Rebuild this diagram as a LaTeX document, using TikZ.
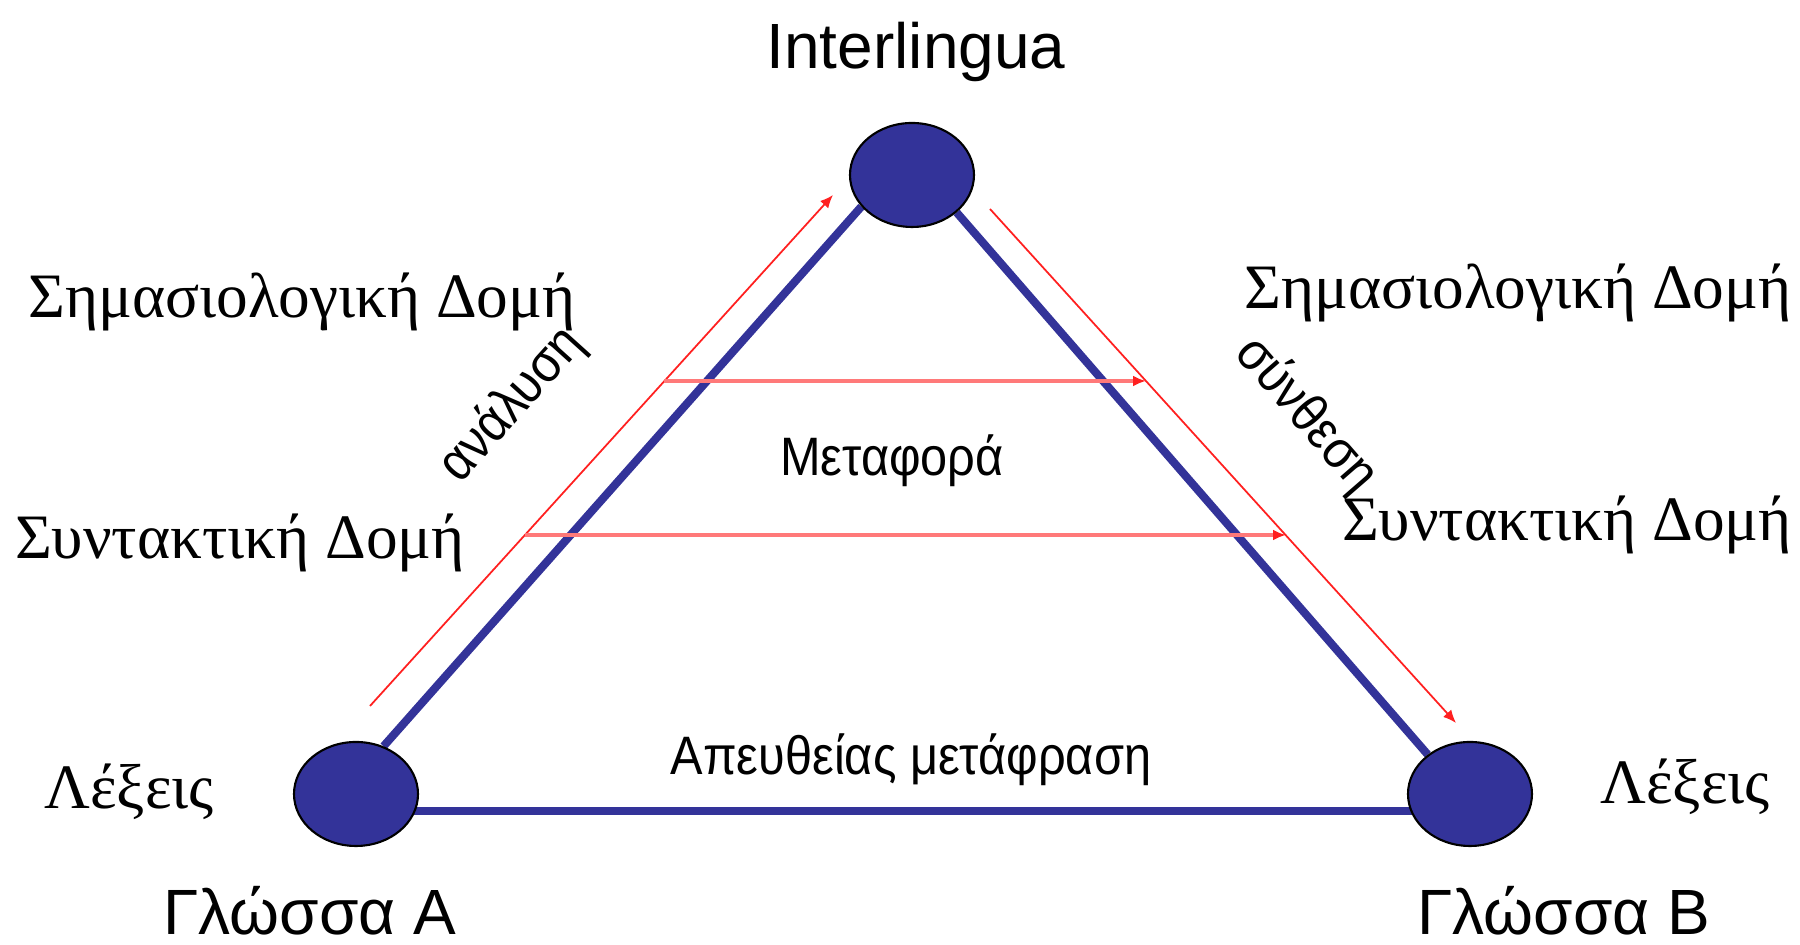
\documentclass[tikz,border=0pt]{standalone}
\usepackage{fontspec}
\setmainfont{Liberation Serif}
\newfontfamily\labelsans{Liberation Sans}
\newfontfamily\narrowsans[FakeStretch=0.9]{Liberation Sans}
\usetikzlibrary{positioning,arrows.meta,backgrounds,shapes.geometric}
\definecolor{deepblue}{HTML}{333399}
\definecolor{flowred}{HTML}{FF2020}
\tikzset{
  lang/.style={ellipse, draw=black, line width=0.6pt, fill=deepblue, minimum width=1.24cm, minimum height=1.04cm, inner sep=0pt},
  edge/.style={deepblue, line width=2.3pt},
  flow/.style={flowred, line width=0.5pt, -{Latex[length=1.3mm,width=1.1mm]}},
  level/.style={flowred!60, line width=1pt, -{Latex[length=1.3mm,width=1.1mm, flowred]}},
  lbl/.style={anchor=base, inner sep=0pt, font=\fontsize{18}{20}\selectfont},
  title/.style={anchor=base, inner sep=0pt, font=\labelsans\fontsize{18.2}{20}\selectfont},
  small/.style={anchor=base, inner sep=0pt, font=\narrowsans\fontsize{15.4}{17}\selectfont}}

\begin{document}
\begin{tikzpicture}
\useasboundingbox (0,0) rectangle (18,9.45);
\node[lang] (top) at (9.12,7.70) {};
\node[lang] (bl) at (3.56,1.51) {};
\node[lang] (br) at (14.70,1.51) {};
\begin{pgfonlayer}{background}
\draw[edge] (bl.60) -- (top.212);
\draw[edge] (top.320) -- (br.137);
\draw[edge] ([yshift=-0.17cm]bl.center) -- ([yshift=-0.17cm]br.center);
\end{pgfonlayer}
% red flows
\coordinate (up0) at (3.70,2.39);
\coordinate (up1) at (8.33,7.50);
\coordinate (dn0) at (9.90,7.36);
\coordinate (dn1) at (14.56,2.22);
\coordinate (sem0) at (6.64,5.64);
\coordinate (sem1) at (11.46,5.64);
\coordinate (syn0) at (5.25,4.10);
\coordinate (syn1) at (12.86,4.10);
\draw[flow] (up0) -- (up1);
\draw[flow] (dn0) -- (dn1);
\draw[level] (sem0) -- (sem1);
\draw[level] (syn0) -- (syn1);
% labels
\node[title] (inter) at (9.16,8.76) {Interlingua};
\node[title] (langa) at (3.10,0.10) {Γλώσσα A};
\node[title] (langb) at (15.64,0.10) {Γλώσσα B};
\node[small] (transfer) at (8.92,4.69) {Μεταφορά};
\node[small] (direct) at (9.11,1.70) {Απευθείας μετάφραση};
\node[small, anchor=center, rotate=48] (analysis) at (5.12,5.40) {ανάλυση};
\node[small, anchor=center, rotate=-49] (synthesis) at (13.06,5.30) {σύνθεση};
\node[lbl] (semA) at (3.02,6.27) {Σημασιολογική Δομή};
\node[lbl] (semB) at (15.18,6.36) {Σημασιολογική Δομή};
\node[lbl] (synA) at (2.40,3.86) {Συντακτική Δομή};
\node[lbl] (synB) at (15.67,4.04) {Συντακτική Δομή};
\node[lbl] (wordA) at (1.29,1.36) {Λέξεις};
\node[lbl] (wordB) at (16.85,1.41) {Λέξεις};
\end{tikzpicture}
\end{document}
